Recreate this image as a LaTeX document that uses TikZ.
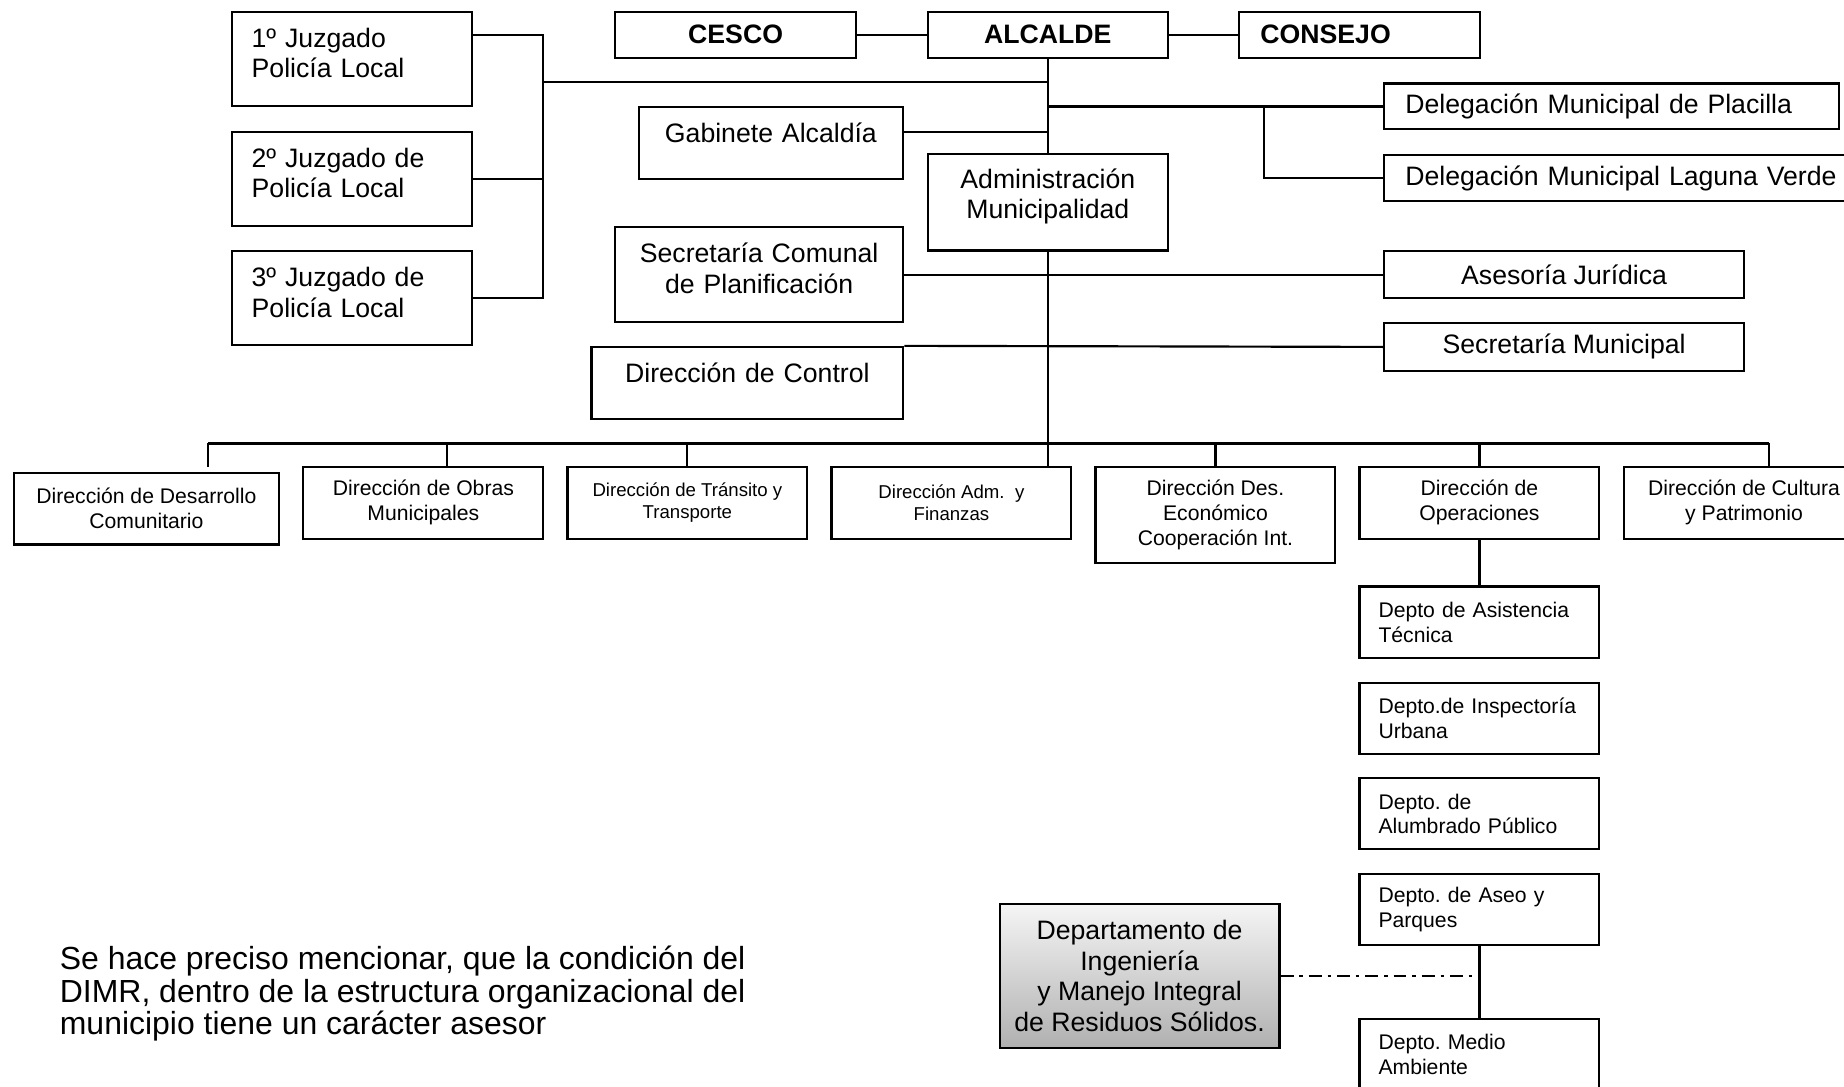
\documentclass[tikz,border=0pt]{standalone}
\usepackage{fontspec}
\setmainfont{Liberation Sans}
\frenchspacing
\newcommand\bigf{\fontsize{13.6pt}{15.6pt}\selectfont}
\newcommand\midf{\fontsize{10.8pt}{12.6pt}\selectfont}
\newcommand\smallf{\fontsize{9.5pt}{11.4pt}\selectfont}
\newcommand\notef{\fontsize{16.3pt}{16.5pt}\selectfont}
% extra space under the last line, lifts the text in its box
\newcommand\lift[1]{\par\kern#1}
\tikzset{
  unit/.style={draw, inner sep=0pt, font=\bigf},
  hd/.style={unit, font=\bigf\bfseries, minimum width=122.7pt, minimum height=23.4pt},
  juz/.style={unit, align=left, text width=102pt, inner xsep=10.2pt, minimum height=48pt},
  deleg/.style={unit, align=left, inner xsep=10.8pt, minimum height=23.4pt},
  mid/.style={unit, align=center, minimum width=183.6pt, minimum height=24.3pt},
  dir/.style={unit, font=\midf, align=center, minimum width=122.4pt, minimum height=36.6pt},
  dep/.style={unit, font=\midf, align=left, text width=103pt, inner xsep=9.7pt, minimum height=36.3pt},
  bus/.style={line width=1.4pt},
  advisory/.style={line width=1.4pt, dash pattern=on 6.6pt off 3pt on 1.8pt off 3pt}
}
\begin{document}
\begin{tikzpicture}[
x=0.6pt,
y=-0.6pt,
line width=1.1pt
]
\useasboundingbox (0,0) rectangle (1568,924);

% juzgados
\node[juz] (jz1) at (299,50) {1º Juzgado\\Policía Local\lift{6pt}};
\node[juz] (jz2) at (299,152) {2º Juzgado de\\Policía Local\lift{6pt}};
\node[juz] (jz3) at (299,253.5) {3º Juzgado de\\Policía Local\lift{6pt}};

% top row
\node[hd] (cesco) at (625.5,29.5) {CESCO};
\node[hd] (alcalde) at (891,29.5) {ALCALDE};
\node[hd, align=left, text width=101.1pt, inner xsep=10.8pt] (consejo) at (1156,29.5) {CONSEJO};

\node[deleg, text width=210.6pt] (placilla) at (1370.5,90.5) {Delegación Municipal de Placilla};
\node[deleg, text width=230.4pt] (laguna) at (1387,151.5) {Delegación Municipal Laguna Verde};

\node[unit, text width=135pt, align=center, minimum height=36.6pt] (gab) at (655.5,121.5) {Gabinete Alcaldía\lift{10.2pt}};
\node[unit, text width=122.4pt, align=center, minimum height=49.2pt] (admin) at (891,172) {Administración\\Municipalidad\lift{6pt}};
\node[unit, text width=147pt, align=center, minimum height=48.6pt] (seccom) at (645.5,233.5) {Secretaría Comunal\\de Planificación\lift{6.6pt}};
\node[unit, text width=159pt, align=center, minimum height=36.6pt] (control) at (635.5,325.5) {Dirección de Control\lift{10.2pt}};
\node[mid] (asesoria) at (1330,233.5) {Asesoría Jurídica};
\node[mid] (secmun) at (1330,295) {Secretaría Municipal};

% direcciones
\node[dir, minimum width=135pt] (des) at (124.5,432.5) {Dirección de Desarrollo\\Comunitario};
\node[dir] (obras) at (360,427.5) {Dirección de Obras\\Municipales};
\node[dir, font=\smallf] (transito) at (584.5,427.5) {Dirección de Tránsito y\\Transporte};
\node[dir, font=\smallf] (fin) at (809,427.5) {Dirección Adm.\ \ y\\Finanzas};
\node[dir, minimum height=49.2pt] (deseco) at (1033.5,438) {Dirección Des.\\Económico\\Cooperación Int.};
\node[dir] (oper) at (1258,427.5) {Dirección de\\Operaciones};
\node[dir] (cultura) at (1483,427.5) {Dirección de Cultura\\y Patrimonio};

% deptos of operaciones
\node[dep] (asis) at (1258,529) {Depto de Asistencia\\Técnica};
\node[dep] (insp) at (1258,611) {Depto.de Inspectoría\\Urbana};
\node[dep] (alum) at (1258,692) {Depto. de\\Alumbrado Público};
\node[dep] (aseo) at (1258,773.5) {Depto. de Aseo y\\Parques};
\node[dep] (medio) at (1258,896.5) {Depto. Medio\\Ambiente};

\node[unit, align=center, minimum width=142.8pt, minimum height=73.2pt,
  top color=gray!8, bottom color=gray!62] (ding) at (969,830)
  {Departamento de\\Ingeniería\\y Manejo Integral\\de Residuos Sólidos.};

\node[anchor=west, align=left, inner sep=0pt, font=\notef] (note) at (50,845)
  {Se hace preciso mencionar, que la condición del\\DIMR, dentro de la estructura organizacional del\\municipio tiene un carácter asesor};

% connectors
\draw (cesco.east) -- (alcalde.west);
\draw (alcalde.east) -- (consejo.west);
\draw (alcalde.south) -- (admin.north);
\draw (admin.south) -- (admin.south |- fin.north);

\coordinate (jb) at (462,70);
\draw ([shift={(0,-20)}]jz1.east) -| (jb |- jz3.east) -- (jz3.east);
\draw (jz2.east) -- (jz2.east -| jb);
\draw (jb) -- (jb -| alcalde.south);

\coordinate (dl) at (1075,91);
\draw (placilla.west -| alcalde.south) -- (placilla.west);
\draw (dl |- placilla.west) |- (laguna.west);

\coordinate (gc) at ([shift={(0,-9.5)}]gab.east);
\draw (gc) -- (gc -| alcalde.south);
\draw (seccom.east) -- (asesoria.west);
\draw (control.north east) -- (secmun.west);

\coordinate (b1) at (177,377);
\coordinate (b2) at (380,377);
\coordinate (b7) at (1504,377);
\coordinate (desd) at (177,397);
\draw[bus] (b1) -- (b7);
\draw (b1) -- (desd);
\draw (b2) -- (b2 |- obras.north);
\draw (transito.north |- b1) -- (transito.north);
\draw (deseco.north |- b1) -- (deseco.north);
\draw (oper.north |- b1) -- (oper.north);
\draw (b7) -- (b7 |- cultura.north);

\draw (oper.south) -- (asis.north);
\draw (aseo.south) -- (medio.north);
\draw[advisory] (ding.east) -- (ding.east -| aseo.south);
\end{tikzpicture}
\end{document}
